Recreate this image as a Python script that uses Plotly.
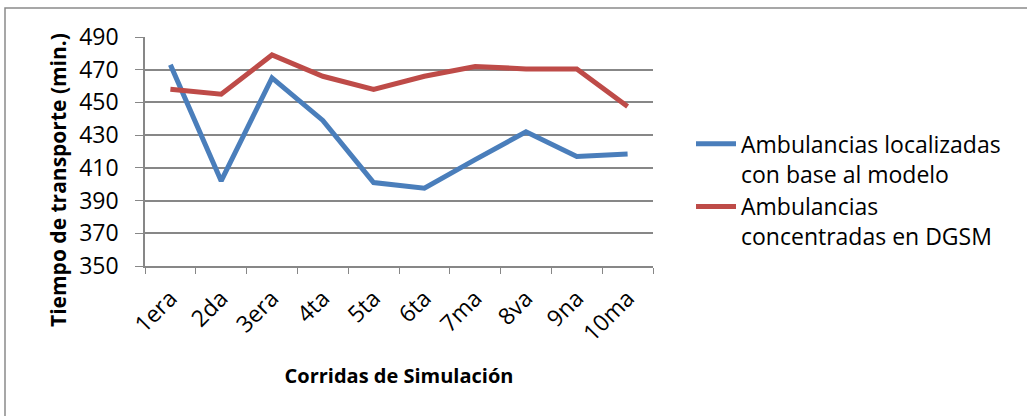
import plotly.graph_objects as go

categories = ["1era", "2da", "3era", "4ta", "5ta", "6ta", "7ma", "8va", "9na", "10ma"]
modelo = [473, 402, 465, 439, 401, 397.5, 415, 432, 417, 418.5]
dgsm = [458, 455, 479, 466, 458, 466, 472, 470.5, 470.5, 447.5]
name_modelo = "Ambulancias localizadas<br>con base al modelo"
name_dgsm = "Ambulancias<br>concentradas en DGSM"
y_ticks = [350, 370, 390, 410, 430, 450, 470, 490]
x_title = "Corridas de Simulación"
y_title = "Tiempo de transporte (min.)"

FONT = "Open Sans"
GRID = "#878787"
L, R, T, B = 145, 374, 37, 150
PW, PH = 1027 - L - R, 416 - T - B

fig = go.Figure()
fig.add_trace(go.Scatter(x=categories, y=modelo, mode="lines", name=name_modelo,
                         line=dict(color="#4a7ebb", width=5)))
fig.add_trace(go.Scatter(x=categories, y=dgsm, mode="lines", name=name_dgsm,
                         line=dict(color="#be4b48", width=5)))

fig.update_layout(
    width=1027, height=416,
    margin=dict(l=L, r=R, t=T, b=B, autoexpand=False),
    paper_bgcolor="white", plot_bgcolor="white",
    font=dict(family=FONT, color="black", size=20),
    legend=dict(x=(691 - L) / PW, y=0.628, xanchor="left", yanchor="top",
                font=dict(family=FONT, size=23), valign="top",
                tracegroupgap=0, itemwidth=40),
    xaxis=dict(type="category", range=[-0.5, 9.5], tickangle=-45, tickson="boundaries",
               ticks="outside", ticklen=6, tickcolor=GRID, ticklabelstandoff=8,
               showline=True, linecolor=GRID, linewidth=1.5,
               showgrid=False, tickfont=dict(size=23),
               title=dict(text="<b>" + x_title + "</b>", font=dict(size=20), standoff=22)),
    yaxis=dict(range=[350, 490], tickvals=y_ticks, ticks="outside", ticklen=8,
               tickcolor=GRID, showline=True, linecolor=GRID, linewidth=1.5,
               ticklabelstandoff=12,
               showgrid=True, gridcolor=GRID, gridwidth=1.5, zeroline=False,
               tickfont=dict(size=23)),
    annotations=[dict(text="<b>" + y_title + "</b>", xref="paper", yref="paper",
                      x=(58 - L) / PW, y=1 - (180 - T) / PH, textangle=-90,
                      showarrow=False, font=dict(size=21),
                      xanchor="center", yanchor="middle")],
    shapes=[dict(type="rect", xref="paper", yref="paper",
                 x0=(5 - L) / PW, x1=2.5, y0=-1.0, y1=1 + (T - 8) / PH,
                 line=dict(color="#8a8a8a", width=1.5), layer="below")],
)

fig.write_html("out.html", config={"displayModeBar": False},
               post_script="document.body.style.margin='0px';")
